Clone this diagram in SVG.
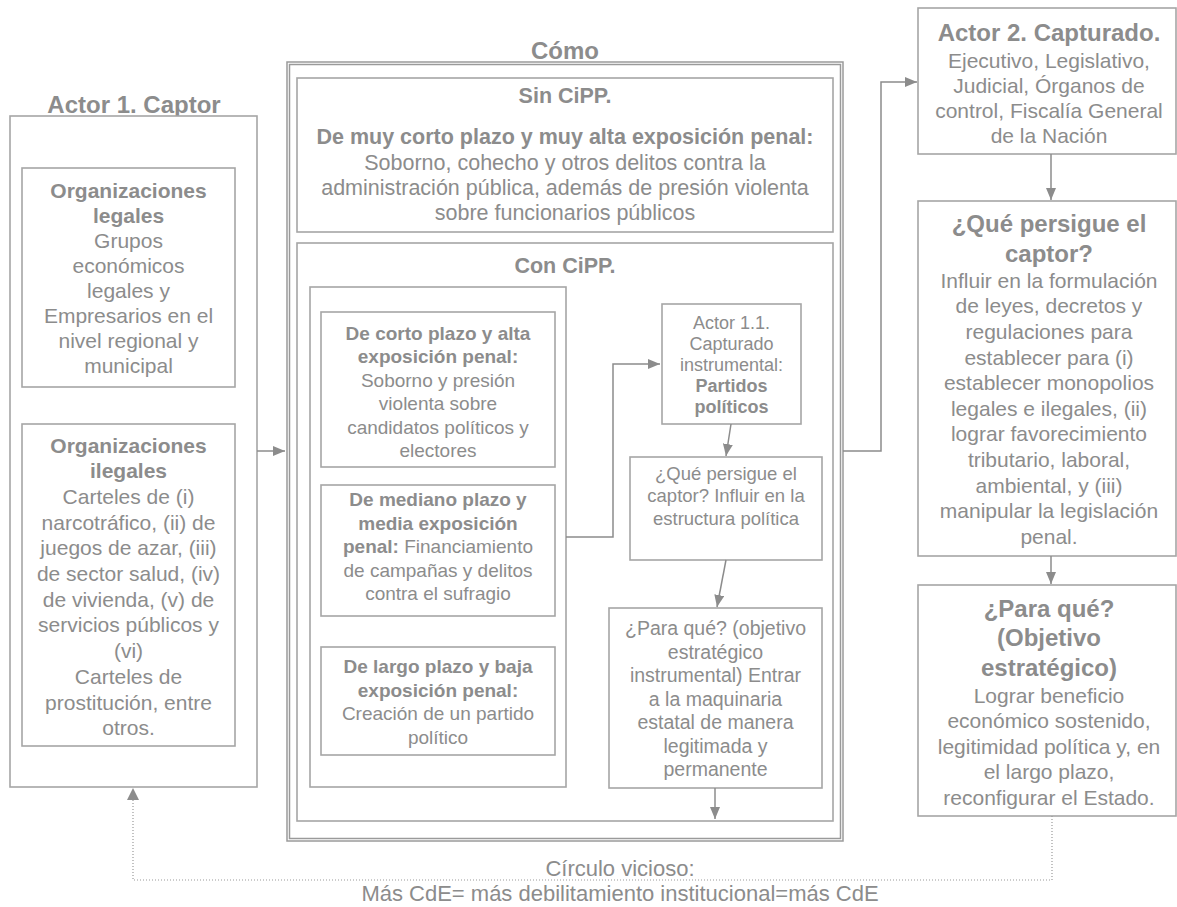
<svg xmlns="http://www.w3.org/2000/svg" width="1177" height="907" viewBox="0 0 1177 907">
<style>
.box{fill:#fff;stroke:#a6a6a6;stroke-width:1.6}
.dbl{fill:none;stroke:#9a9a9a;stroke-width:1.5}
.t{font-family:"Liberation Sans",Arial,sans-serif;fill:#8c8c8c;text-anchor:middle}
.b{font-weight:bold}
.conn{fill:none;stroke:#8c8c8c;stroke-width:1.5}
.dot{fill:none;stroke:#999;stroke-width:1.2;stroke-dasharray:1 2}
</style>
<defs>
<marker id="ah" markerWidth="12" markerHeight="10" refX="12" refY="5" orient="auto" markerUnits="userSpaceOnUse"><path d="M0,0 L12,5 L0,10 z" fill="#8c8c8c"/></marker>
</defs>
<rect width="1177" height="907" fill="#fff"/>

<g id="actor1">
<text class="t b" x="134" y="113" font-size="24">Actor 1. Captor</text>
<rect class="box" x="10" y="116" width="247" height="671"/>
</g>
<g id="org-legales">
<rect class="box" x="22" y="168" width="213" height="219"/>
<text class="t" font-size="21"><tspan class="b" x="128.5" y="197.5">Organizaciones</tspan><tspan class="b" x="128.5" y="222.5">legales</tspan><tspan x="128.5" y="247.5">Grupos</tspan><tspan x="128.5" y="272.5">económicos</tspan><tspan x="128.5" y="297.5">legales y</tspan><tspan x="128.5" y="322.5">Empresarios en el</tspan><tspan x="128.5" y="347.5">nivel regional y</tspan><tspan x="128.5" y="372.5">municipal</tspan></text>
</g>
<g id="org-ilegales">
<rect class="box" x="22" y="424" width="213" height="322"/>
<text class="t" font-size="21"><tspan class="b" x="128.5" y="452.5">Organizaciones</tspan><tspan class="b" x="128.5" y="478.2">ilegales</tspan><tspan x="128.5" y="503.9">Carteles de (i)</tspan><tspan x="128.5" y="529.6">narcotráfico, (ii) de</tspan><tspan x="128.5" y="555.3">juegos de azar, (iii)</tspan><tspan x="128.5" y="581">de sector salud, (iv)</tspan><tspan x="128.5" y="606.7">de vivienda, (v) de</tspan><tspan x="128.5" y="632.4">servicios públicos y</tspan><tspan x="128.5" y="658.1">(vi)</tspan><tspan x="128.5" y="683.8">Carteles de</tspan><tspan x="128.5" y="709.5">prostitución, entre</tspan><tspan x="128.5" y="735.2">otros.</tspan></text>
</g>

<g id="como">
<text class="t b" x="565" y="59" font-size="24">Cómo</text>
<rect x="287" y="62" width="556" height="779" fill="#fff" stroke="none"/>
<rect class="dbl" x="287" y="62" width="556" height="779"/>
<rect class="dbl" x="289.5" y="64.5" width="551" height="774" stroke-width="1" stroke="#b5b5b5"/>
</g>
<g id="sin-cipp">
<rect class="box" x="297" y="78" width="536" height="154"/>
<text class="t" font-size="21.5"><tspan class="b" x="565" y="102.5">Sin CiPP.</tspan><tspan class="b" x="565" y="143.5">De muy corto plazo y muy alta exposición penal:</tspan><tspan x="565" y="170">Soborno, cohecho y otros delitos contra la</tspan><tspan x="565" y="195">administración pública, además de presión violenta</tspan><tspan x="565" y="220">sobre funcionarios públicos</tspan></text>
</g>
<g id="con-cipp">
<rect class="box" x="297" y="243" width="536" height="578"/>
<text class="t b" x="565" y="272.5" font-size="21.5">Con CiPP.</text>
</g>
<g id="modalidades">
<rect class="box" x="310" y="287" width="256" height="500"/>
</g>
<g id="corto-plazo">
<rect class="box" x="321" y="312" width="234" height="155"/>
<text class="t" font-size="19"><tspan class="b" x="438" y="339.5">De corto plazo y alta</tspan><tspan class="b" x="438" y="363">exposición penal:</tspan><tspan x="438" y="386.5">Soborno y presión</tspan><tspan x="438" y="410">violenta sobre</tspan><tspan x="438" y="433.5">candidatos políticos y</tspan><tspan x="438" y="457">electores</tspan></text>
</g>
<g id="mediano-plazo">
<rect class="box" x="321" y="485" width="234" height="131"/>
<text class="t" font-size="19"><tspan class="b" x="438" y="506">De mediano plazo y</tspan><tspan class="b" x="438" y="529.5">media exposición</tspan><tspan x="438" y="553"><tspan class="b">penal:</tspan> Financiamiento</tspan><tspan x="438" y="576.5">de campañas y delitos</tspan><tspan x="438" y="600">contra el sufragio</tspan></text>
</g>
<g id="largo-plazo">
<rect class="box" x="321" y="647" width="234" height="108"/>
<text class="t" font-size="19"><tspan class="b" x="438" y="673">De largo plazo y baja</tspan><tspan class="b" x="438" y="696.5">exposición penal:</tspan><tspan x="438" y="720">Creación de un partido</tspan><tspan x="438" y="743.5">político</tspan></text>
</g>
<g id="actor11">
<rect class="box" x="662" y="304" width="139" height="120"/>
<text class="t" font-size="18"><tspan x="731.5" y="329">Actor 1.1.</tspan><tspan x="731.5" y="350">Capturado</tspan><tspan x="731.5" y="371">instrumental:</tspan><tspan class="b" x="731.5" y="392">Partidos</tspan><tspan class="b" x="731.5" y="413">políticos</tspan></text>
</g>
<g id="que-persigue-inst">
<rect class="box" x="630" y="457" width="192" height="103"/>
<text class="t" font-size="18.5"><tspan x="726" y="479.5">¿Qué persigue el</tspan><tspan x="726" y="502">captor? Influir en la</tspan><tspan x="726" y="524.5">estructura política</tspan></text>
</g>
<g id="para-que-inst">
<rect class="box" x="609" y="608" width="213" height="180"/>
<text class="t" font-size="19.5"><tspan x="715.5" y="635">¿Para qué? (objetivo</tspan><tspan x="715.5" y="658.5">estratégico</tspan><tspan x="715.5" y="682">instrumental) Entrar</tspan><tspan x="715.5" y="705.5">a la maquinaria</tspan><tspan x="715.5" y="729">estatal de manera</tspan><tspan x="715.5" y="752.5">legitimada y</tspan><tspan x="715.5" y="776">permanente</tspan></text>
</g>

<g id="actor2">
<rect class="box" x="918" y="8" width="258" height="146"/>
<text class="t" font-size="21"><tspan class="b" x="1049" y="40.5" font-size="24">Actor 2. Capturado.</tspan><tspan x="1049" y="67.5">Ejecutivo, Legislativo,</tspan><tspan x="1049" y="92.5">Judicial, Órganos de</tspan><tspan x="1049" y="117.5">control, Fiscalía General</tspan><tspan x="1049" y="142.5">de la Nación</tspan></text>
</g>
<g id="que-persigue">
<rect class="box" x="918" y="201" width="258" height="355"/>
<text class="t" font-size="21"><tspan class="b" x="1049" y="231.5" font-size="24">¿Qué persigue el</tspan><tspan class="b" x="1049" y="261.5" font-size="24">captor?</tspan><tspan x="1049" y="287.5">Influir en la formulación</tspan><tspan x="1049" y="313.2">de leyes, decretos y</tspan><tspan x="1049" y="338.8">regulaciones para</tspan><tspan x="1049" y="364.5">establecer para (i)</tspan><tspan x="1049" y="390.1">establecer monopolios</tspan><tspan x="1049" y="415.8">legales e ilegales, (ii)</tspan><tspan x="1049" y="441.4">lograr favorecimiento</tspan><tspan x="1049" y="467.1">tributario, laboral,</tspan><tspan x="1049" y="492.7">ambiental, y (iii)</tspan><tspan x="1049" y="518.4">manipular la legislación</tspan><tspan x="1049" y="544">penal.</tspan></text>
</g>
<g id="para-que">
<rect class="box" x="918" y="585" width="258" height="231"/>
<text class="t" font-size="21"><tspan class="b" x="1049" y="616.5" font-size="24">¿Para qué?</tspan><tspan class="b" x="1049" y="646" font-size="24">(Objetivo</tspan><tspan class="b" x="1049" y="675.5" font-size="24">estratégico)</tspan><tspan x="1049" y="702.5">Lograr beneficio</tspan><tspan x="1049" y="728">económico sostenido,</tspan><tspan x="1049" y="753.5">legitimidad política y, en</tspan><tspan x="1049" y="779">el largo plazo,</tspan><tspan x="1049" y="804.5">reconfigurar el Estado.</tspan></text>
</g>

<g id="connectors">
<path class="conn" d="M257,451 H285" marker-end="url(#ah)"/>
<path class="conn" d="M566,537 H613 V364 H660" marker-end="url(#ah)"/>
<path class="conn" d="M731,424 L726,456" marker-end="url(#ah)"/>
<path class="conn" d="M726,560 L717,607" marker-end="url(#ah)"/>
<path class="conn" d="M715,788 V819" marker-end="url(#ah)"/>
<path class="conn" d="M843,451 H881 V82 H917" marker-end="url(#ah)"/>
<path class="conn" d="M1051,154 V200" marker-end="url(#ah)"/>
<path class="conn" d="M1051,556 V584" marker-end="url(#ah)"/>
<path class="dot" d="M1052,816 V880 H133 V792"/>
<path d="M127,800 L133,788 L139,800 z" fill="#8c8c8c"/>
</g>
<g id="loop-label">
<text class="t" font-size="22"><tspan x="620" y="876">Círculo vicioso:</tspan><tspan x="620" y="901">Más CdE= más debilitamiento institucional=más CdE</tspan></text>
</g>
</svg>
